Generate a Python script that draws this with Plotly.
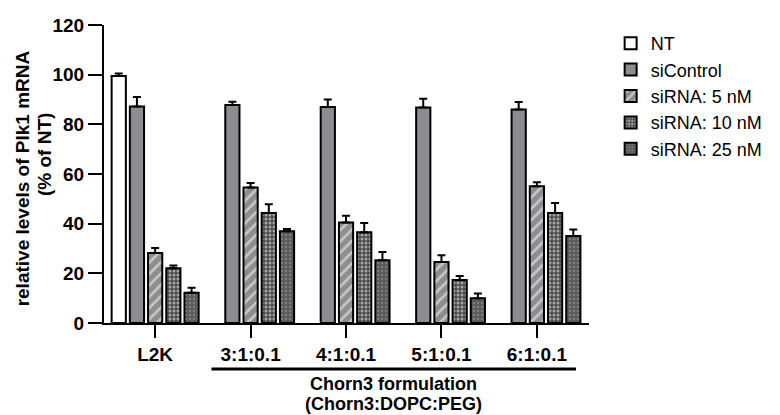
import plotly.graph_objects as go

categories = ["L2K", "3:1:0.1", "4:1:0.1", "5:1:0.1", "6:1:0.1"]
series_names = ["NT", "siControl", "siRNA: 5 nM", "siRNA: 10 nM", "siRNA: 25 nM"]
nt_vals = [99.5, None, None, None, None]
nt_err = [1.0, 0, 0, 0, 0]
sicontrol_vals = [87.2, 87.8, 87.0, 86.8, 86.0]
sicontrol_err = [3.8, 1.3, 3.0, 3.5, 3.0]
sirna5_vals = [28.2, 54.6, 40.5, 24.6, 55.1]
sirna5_err = [2.0, 1.8, 2.7, 2.7, 1.6]
sirna10_vals = [22.0, 44.3, 36.5, 17.3, 44.3]
sirna10_err = [1.2, 3.5, 3.8, 1.6, 4.0]
sirna25_vals = [12.2, 36.9, 25.3, 10.0, 35.0]
sirna25_err = [2.0, 1.0, 3.3, 1.9, 2.7]
y_ticks = [0, 20, 40, 60, 80, 100, 120]
y_title_lines = ["relative levels of Plk1 mRNA", "(% of NT)"]
group_label_lines = ["Chorn3 formulation", "(Chorn3:DOPC:PEG)"]

FONT = "Arial, Liberation Sans, sans-serif"

styles = [
    dict(color="white", pattern=None),
    dict(color="#8d8d90", pattern=None),
    dict(color="#8d8d90", pattern=dict(shape="/", fgcolor="white", bgcolor="#8d8d90", size=8, solidity=0.35)),
    dict(color="#4a4a4a", pattern=dict(shape=".", fgcolor="white", bgcolor="#4a4a4a", size=4, solidity=0.45)),
    dict(color="#5c5c5c", pattern=dict(shape=".", fgcolor="#b8b8b8", bgcolor="#5c5c5c", size=4, solidity=0.2)),
]
vals = [nt_vals, sicontrol_vals, sirna5_vals, sirna10_vals, sirna25_vals]
errs = [nt_err, sicontrol_err, sirna5_err, sirna10_err, sirna25_err]

fig = go.Figure()
for name, v, e, st in zip(series_names, vals, errs, styles):
    marker = dict(color=st["color"], line=dict(color="black", width=2))
    if st["pattern"] is not None:
        marker["pattern"] = st["pattern"]
    fig.add_trace(go.Bar(
        name=name, x=categories, y=v, marker=marker,
        error_y=dict(type="data", array=e, arrayminus=[0] * len(e), symmetric=False,
                     color="black", thickness=2, width=4),
    ))

L, R, T, B = 104, 183, 25, 92
PW, PH = 780 - L - R, 415 - T - B


def px_x(px):
    return (px - L) / PW


def px_y(py):
    return (415 - B - py) / PH


fig.update_layout(
    width=780, height=415,
    margin=dict(l=L, r=R, t=T, b=B),
    paper_bgcolor="white", plot_bgcolor="white",
    barmode="group", bargap=0.046, bargroupgap=0.22,
    font=dict(family=FONT, color="black", size=18),
    legend=dict(x=px_x(619), y=1.0, xanchor="left", yanchor="top",
                font=dict(size=18, family=FONT), traceorder="normal",
                bgcolor="rgba(0,0,0,0)"),
    showlegend=True,
)
fig.update_xaxes(
    range=[-0.536, 4.546], showline=True, linecolor="black", linewidth=2,
    ticks="outside", ticklen=13, tickwidth=2, tickcolor="black",
    tickfont=dict(size=19, family=FONT), showgrid=False, zeroline=False,
    tickprefix="<b>", ticksuffix="</b>",
)
fig.update_yaxes(
    range=[0, 120], tickvals=y_ticks, ticktext=[f"<b>{t}</b>" for t in y_ticks],
    showline=True, linecolor="black", linewidth=2,
    ticks="outside", ticklen=14, tickwidth=2, tickcolor="black",
    tickfont=dict(size=19, family=FONT), showgrid=False, zeroline=False,
)
# y-axis title (two lines, as in the reference)
fig.add_annotation(x=px_x(21), xref="paper", y=px_y(178), yref="paper",
                   text=f"<b>{y_title_lines[0]}</b>", textangle=-90, showarrow=False,
                   xanchor="center", yanchor="middle", font=dict(size=19, family=FONT))
fig.add_annotation(x=px_x(43), xref="paper", y=px_y(154), yref="paper",
                   text=f"<b>{y_title_lines[1]}</b>", textangle=-90, showarrow=False,
                   xanchor="center", yanchor="middle", font=dict(size=19, family=FONT))
# group bracket under the Chorn3 formulations
fig.add_shape(type="line", xref="x", yref="paper", x0=0.59, x1=4.41,
              y0=px_y(369), y1=px_y(369), line=dict(color="black", width=3))
fig.add_annotation(x=2.5, xref="x", y=px_y(384), yref="paper", text=f"<b>{group_label_lines[0]}</b>",
                   showarrow=False, xanchor="center", yanchor="middle",
                   font=dict(size=18, family=FONT))
fig.add_annotation(x=2.5, xref="x", y=px_y(404), yref="paper", text=f"<b>{group_label_lines[1]}</b>",
                   showarrow=False, xanchor="center", yanchor="middle",
                   font=dict(size=18, family=FONT))

fig.write_html("out.html", config={"displayModeBar": False},
               post_script="document.body.style.margin='0px';")
